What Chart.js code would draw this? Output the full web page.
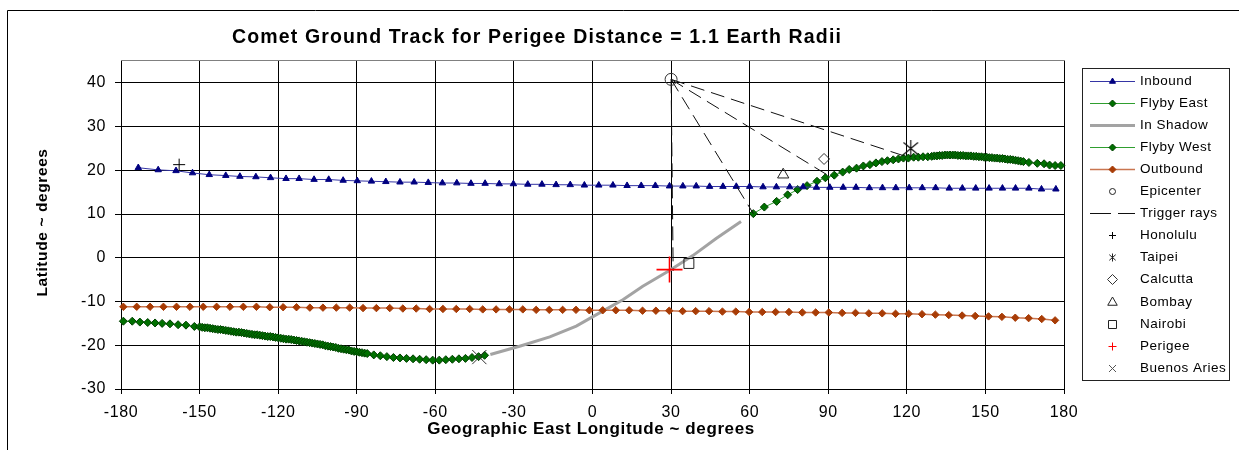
<!DOCTYPE html>
<html><head><meta charset="utf-8">
<script src="https://cdn.jsdelivr.net/npm/chart.js@4"></script>
<style>html,body{margin:0;padding:0;background:#fff;}#c{display:block;}</style>
</head><body>
<canvas id="c" width="1239" height="450"></canvas>
<script>
const FONT = "'Liberation Sans', Arial, sans-serif";
const TITLE = 'Comet Ground Track for Perigee Distance = 1.1 Earth Radii';
const X_TITLE = 'Geographic East Longitude ~ degrees';
const Y_TITLE = 'Latitude ~ degrees';

const xTicks = [-180,-150,-120,-90,-60,-30,0,30,60,90,120,150,180];
const yTicks = [-30,-20,-10,0,10,20,30,40];

const inboundLon = [-173.4,-165.8,-159.0,-152.7,-146.3,-140.0,-134.6,-128.5,-122.9,-117.0,-112.0,-106.3,-100.7,-95.2,-89.8,-84.4,-78.9,-73.5,-68.1,-62.7,-57.3,-51.8,-46.4,-41.0,-35.6,-30.2,-24.7,-19.3,-13.9,-8.5,-3.1,2.4,7.8,13.2,18.6,24.0,29.4,34.5,39.6,44.7,49.8,54.9,60.0,65.1,70.2,75.3,80.4,85.5,90.6,95.7,100.6,105.7,110.7,115.8,120.9,125.9,131.0,136.2,141.2,146.3,151.4,156.5,161.5,166.6,171.4,176.9];
const inboundLat = [20.6,20.1,19.9,19.4,19.0,18.8,18.6,18.5,18.3,18.1,18.1,17.9,17.9,17.7,17.6,17.5,17.4,17.3,17.3,17.2,17.1,17.1,17.0,17.0,16.9,16.9,16.8,16.8,16.7,16.7,16.6,16.6,16.6,16.5,16.5,16.5,16.4,16.4,16.4,16.3,16.3,16.3,16.3,16.2,16.2,16.2,16.2,16.1,16.1,16.1,16.1,16.0,16.0,16.0,16.0,16.0,16.0,15.9,15.9,15.9,15.9,15.9,15.9,15.9,15.7,15.7];

const flybyEastLon = [61.4,65.6,70.3,74.5,78.3,81.9,85.7,88.9,92.3,95.5,98.0,100.8,103.4,105.9,108.2,110.5,112.6,114.8,116.8,118.7,120.6,122.6,124.4,126.2,128.0,129.5,130.5,131.5,132.5,133.5,134.5,135.5,136.5,137.5,138.5,139.5,140.5,141.5,142.5,143.5,144.5,145.5,146.5,147.5,148.5,149.5,150.5,151.5,152.5,153.5,154.5,155.5,156.5,157.5,158.5,159.5,160.5,161.5,162.5,163.5,164.5,166.6,169.8,172.4,174.5,176.6,178.8];
const flybyEastLat = [10.1,11.6,12.9,14.4,15.6,16.5,17.5,18.3,18.9,19.6,20.2,20.5,21.0,21.3,21.7,22.0,22.2,22.4,22.6,22.8,22.8,23.0,23.0,23.1,23.1,23.2,23.3,23.3,23.4,23.4,23.5,23.5,23.5,23.5,23.5,23.4,23.4,23.4,23.3,23.3,23.3,23.2,23.2,23.1,23.1,23.0,23.0,22.9,22.9,22.8,22.8,22.7,22.7,22.6,22.5,22.5,22.4,22.3,22.2,22.1,22.0,21.8,21.6,21.5,21.2,21.1,21.1];

const shadowLon = [-39.0,-27.2,-16.3,-6.2,2.7,11.6,19.2,29.4,38.3,47.2,56.7];
const shadowLat = [-22.1,-20.1,-18.1,-15.6,-12.6,-9.6,-6.5,-2.9,0.5,4.4,8.3];

const flybyWestLon = [-179.1,-175.7,-172.8,-169.8,-167.0,-164.3,-161.3,-158.2,-155.2,-152.0,
 -150,-149,-148,-147,-146,-145,-144,-143,-142,-141,-140,-139,-138,-137,-136,-135,-134,-133,-132,-131,-130,-129,-128,-127,-126,-125,-124,-123,-122,-121,-120,-119,-118,-117,-116,-115,-114,-113,-112,-111,-110,-109,-108,-107,-106,-105,-104,-103,-102,-101,-100,-99,-98,-97,-96,-95,-94,-93,-92,-91,-90,-89,-88,-87,-86,
 -83.5,-81,-78.5,-76,-73.5,-71,-68.5,-66,-63.5,-61,-58.5,-56,-53.5,-51,-48.5,-46,-43.5,-41.2];
const flybyWestLat = [-14.5,-14.5,-14.7,-14.8,-14.9,-15.0,-15.1,-15.3,-15.4,-15.7,
 -15.8,-15.9,-16.0,-16.0,-16.1,-16.2,-16.3,-16.4,-16.4,-16.5,-16.6,-16.7,-16.8,-16.9,-17.0,-17.0,-17.1,-17.2,-17.3,-17.4,-17.5,-17.6,-17.6,-17.7,-17.8,-17.9,-18.0,-18.0,-18.1,-18.2,-18.3,-18.4,-18.5,-18.6,-18.6,-18.7,-18.8,-18.9,-19.0,-19.1,-19.2,-19.3,-19.4,-19.5,-19.6,-19.7,-19.8,-19.9,-20.1,-20.2,-20.3,-20.4,-20.5,-20.7,-20.8,-20.9,-21.0,-21.1,-21.3,-21.4,-21.5,-21.6,-21.7,-21.8,-21.9,
 -22.2,-22.4,-22.6,-22.8,-22.9,-23.0,-23.1,-23.2,-23.3,-23.4,-23.4,-23.3,-23.2,-23.1,-23.0,-22.8,-22.6,-22.3];

const outboundLon = [-179.1,-174.0,-168.9,-163.8,-158.8,-153.7,-148.6,-143.5,-138.4,-133.3,-128.3,-123.2,-118.1,-113.0,-107.9,-102.9,-97.8,-92.7,-87.6,-82.5,-77.4,-72.4,-67.3,-62.2,-57.1,-52.0,-46.9,-41.9,-36.8,-31.7,-26.6,-21.5,-16.5,-11.4,-6.3,-1.2,3.9,8.9,14.0,19.1,24.2,29.3,34.4,39.4,44.5,49.6,54.7,59.8,64.8,69.9,75.0,80.1,85.2,90.2,95.3,100.4,105.5,110.6,115.7,120.7,125.8,130.9,136.0,141.1,146.1,151.2,156.3,161.4,166.5,171.5,176.6];
const outboundLat = [-11.2,-11.2,-11.2,-11.2,-11.2,-11.2,-11.2,-11.2,-11.2,-11.2,-11.2,-11.3,-11.3,-11.3,-11.4,-11.4,-11.4,-11.4,-11.5,-11.5,-11.5,-11.6,-11.6,-11.7,-11.7,-11.7,-11.7,-11.8,-11.8,-11.8,-11.8,-11.9,-11.9,-11.9,-11.9,-12.0,-12.0,-12.0,-12.0,-12.1,-12.1,-12.1,-12.2,-12.2,-12.2,-12.3,-12.3,-12.4,-12.4,-12.4,-12.4,-12.5,-12.5,-12.5,-12.6,-12.6,-12.7,-12.7,-12.8,-12.8,-12.9,-13.0,-13.1,-13.2,-13.3,-13.4,-13.5,-13.7,-13.8,-14.0,-14.3];

const epicenterLon = [30.0];
const epicenterLat = [40.8];
const rayEndLon = [30.8, 61.4, 89.5, 120.5];
const rayEndLat = [-3.0, 10.1, 19.0, 23.0];

const cityNames = ['Honolulu','Taipei','Calcutta','Bombay','Nairobi','Perigee','Buenos Aries'];
const cityLon = [-157.8, 121.5, 88.4, 72.8, 36.8, 29.4, -43.2];
const cityLat = [21.3, 25.0, 22.6, 19.0, -1.3, -2.7, -22.7];

const seriesNames = ['Inbound','Flyby East','In Shadow','Flyby West','Outbound','Epicenter','Trigger rays'];

const pts = (xs, ys) => xs.map((x, i) => ({x: x, y: ys[i]}));

function asteriskCanvas(s, color) {
  const c = document.createElement('canvas');
  c.width = c.height = 2 * s + 2;
  const g = c.getContext('2d');
  const m = s + 1;
  g.strokeStyle = color; g.lineWidth = 1.2;
  g.beginPath();
  g.moveTo(m - s * 0.85, m - s * 0.7); g.lineTo(m + s * 0.85, m + s * 0.7);
  g.moveTo(m + s * 0.85, m - s * 0.7); g.lineTo(m - s * 0.85, m + s * 0.7);
  g.moveTo(m, m - s); g.lineTo(m, m + s);
  g.stroke();
  return c;
}

const C = {
  inLine: '#3535a5', inMark: '#000080',
  flyLine: '#2f9f2f', flyMark: '#007000', flyEdge: '#004000',
  shadow: '#a3a3a3',
  outLine: '#c97650', outMark: '#a83c06'
};

const cityStyles = [
  {pointStyle: 'cross', radius: 6, borderColor: '#000', borderWidth: 1},
  {pointStyle: asteriskCanvas(8.5, '#111'), radius: 8.5, borderColor: '#111', borderWidth: 1},
  {pointStyle: 'rectRot', radius: 5.5, borderColor: '#333', borderWidth: 1},
  {pointStyle: 'triangle', radius: 6.5, borderColor: '#222', borderWidth: 1},
  {pointStyle: 'rect', radius: 7, borderColor: '#222', borderWidth: 1},
  {pointStyle: 'cross', radius: 13, borderColor: '#ff0000', borderWidth: 1.6},
  {pointStyle: 'crossRot', radius: 10, borderColor: '#333', borderWidth: 1}
];

const datasets = [];
cityNames.forEach((n, i) => {
  datasets.push(Object.assign({
    label: n, data: [{x: cityLon[i], y: cityLat[i]}], showLine: false,
    backgroundColor: 'rgba(0,0,0,0)', clip: false
  }, cityStyles[i]));
});
datasets.push({
  label: 'Epicenter', data: pts(epicenterLon, epicenterLat), showLine: false,
  pointStyle: 'circle', radius: 6, borderColor: '#333', borderWidth: 1, backgroundColor: 'rgba(0,0,0,0)', clip: false
});
rayEndLon.forEach((lon, i) => {
  datasets.push({
    label: 'Trigger rays', data: [{x: epicenterLon[0], y: epicenterLat[0]}, {x: lon, y: rayEndLat[i]}],
    showLine: true, borderColor: '#111', borderWidth: 1, borderDash: [14, 7], pointRadius: 0, clip: false
  });
});
datasets.push({
  label: 'Inbound', data: pts(inboundLon, inboundLat), showLine: true,
  borderColor: C.inLine, borderWidth: 1, pointStyle: 'triangle', pointRadius: 3.7,
  pointBackgroundColor: C.inMark, pointBorderColor: C.inMark, pointBorderWidth: 1, clip: false
});
datasets.push({
  label: 'Flyby East', data: pts(flybyEastLon, flybyEastLat), showLine: true,
  borderColor: C.flyLine, borderWidth: 1, pointStyle: 'rectRot', pointRadius: 4,
  pointBackgroundColor: C.flyMark, pointBorderColor: C.flyEdge, pointBorderWidth: 1, clip: false
});
datasets.push({
  label: 'Flyby West', data: pts(flybyWestLon, flybyWestLat), showLine: true,
  borderColor: C.flyLine, borderWidth: 1, pointStyle: 'rectRot', pointRadius: 4,
  pointBackgroundColor: C.flyMark, pointBorderColor: C.flyEdge, pointBorderWidth: 1, clip: false
});
datasets.push({
  label: 'Outbound', data: pts(outboundLon, outboundLat), showLine: true,
  borderColor: C.outLine, borderWidth: 1.5, pointStyle: 'rectRot', pointRadius: 3.7,
  pointBackgroundColor: C.outMark, pointBorderColor: C.outMark, pointBorderWidth: 1, clip: false
});
datasets.push({
  label: 'In Shadow', data: pts(shadowLon, shadowLat), showLine: true,
  borderColor: C.shadow, borderWidth: 3, pointRadius: 0, clip: false
});

function mark(ctx, type, x, y, r, stroke, fill, lw) {
  ctx.save();
  ctx.lineWidth = lw || 1; ctx.strokeStyle = stroke;
  ctx.beginPath();
  if (type === 'triangle') { ctx.moveTo(x, y - r); ctx.lineTo(x + r * 0.866, y + r * 0.5); ctx.lineTo(x - r * 0.866, y + r * 0.5); ctx.closePath(); }
  else if (type === 'diamond') { ctx.moveTo(x, y - r); ctx.lineTo(x + r, y); ctx.lineTo(x, y + r); ctx.lineTo(x - r, y); ctx.closePath(); }
  else if (type === 'circle') { ctx.arc(x, y, r, 0, Math.PI * 2); }
  else if (type === 'square') { ctx.rect(x - r, y - r, 2 * r, 2 * r); }
  else if (type === 'plus') { ctx.moveTo(x - r, y); ctx.lineTo(x + r, y); ctx.moveTo(x, y - r); ctx.lineTo(x, y + r); }
  else if (type === 'x') { ctx.moveTo(x - r, y - r); ctx.lineTo(x + r, y + r); ctx.moveTo(x + r, y - r); ctx.lineTo(x - r, y + r); }
  else if (type === 'ast') { ctx.moveTo(x - r * 0.8, y - r * 0.7); ctx.lineTo(x + r * 0.8, y + r * 0.7); ctx.moveTo(x + r * 0.8, y - r * 0.7); ctx.lineTo(x - r * 0.8, y + r * 0.7); ctx.moveTo(x, y - r); ctx.lineTo(x, y + r); }
  if (fill) { ctx.fillStyle = fill; ctx.fill(); }
  ctx.stroke();
  ctx.restore();
}

const legendItems = [
  {label: seriesNames[0], line: {c: C.inLine, w: 1}, m: ['triangle', 3.5, C.inMark, C.inMark]},
  {label: seriesNames[1], line: {c: C.flyLine, w: 1}, m: ['diamond', 3.5, C.flyEdge, C.flyMark]},
  {label: seriesNames[2], line: {c: C.shadow, w: 3}},
  {label: seriesNames[3], line: {c: C.flyLine, w: 1}, m: ['diamond', 3.5, C.flyEdge, C.flyMark]},
  {label: seriesNames[4], line: {c: C.outLine, w: 1.5}, m: ['diamond', 3.5, C.outMark, C.outMark]},
  {label: seriesNames[5], m: ['circle', 3, '#222', null]},
  {label: seriesNames[6], line: {c: '#111', w: 1, dash: [21, 7]}},
  {label: cityNames[0], m: ['plus', 3.5, '#000', null]},
  {label: cityNames[1], m: ['ast', 4, '#222', null]},
  {label: cityNames[2], m: ['diamond', 5, '#333', null]},
  {label: cityNames[3], m: ['triangle', 5.5, '#222', null]},
  {label: cityNames[4], m: ['square', 4, '#222', null]},
  {label: cityNames[5], m: ['plus', 4, '#ff0000', null]},
  {label: cityNames[6], m: ['x', 3.5, '#555', null]}
];

const decor = {
  id: 'decor',
  beforeDraw(chart) {
    const ctx = chart.ctx;
    ctx.save(); ctx.fillStyle = '#fff'; ctx.fillRect(0, 0, chart.width, chart.height); ctx.restore();
    ctx.letterSpacing = '0.6px';
  },
  afterDraw(chart) {
    const ctx = chart.ctx, a = chart.chartArea;
    ctx.save();
    ctx.lineWidth = 1;
    ctx.strokeStyle = '#808080';
    ctx.beginPath(); ctx.moveTo(a.left, 60.5); ctx.lineTo(a.right + 1, 60.5); ctx.stroke();
    ctx.strokeStyle = '#000';
    ctx.beginPath(); ctx.moveTo(7.5, 450); ctx.lineTo(7.5, 10.5); ctx.lineTo(1239, 10.5); ctx.stroke();

    ctx.fillStyle = '#000';
    ctx.textAlign = 'center'; ctx.textBaseline = 'alphabetic';
    ctx.font = 'bold 19.5px ' + FONT; ctx.letterSpacing = '1.15px';
    ctx.fillText(TITLE, 537, 42.5);
    ctx.font = 'bold 17px ' + FONT; ctx.letterSpacing = '0.6px';
    ctx.fillText(X_TITLE, 591, 434);
    ctx.save(); ctx.translate(47, 222.5); ctx.rotate(-Math.PI / 2);
    ctx.font = 'bold 15.5px ' + FONT; ctx.fillText(Y_TITLE, 0, 0); ctx.restore();

    // legend
    ctx.strokeStyle = '#222';
    ctx.strokeRect(1082.5, 68.5, 147, 312);
    ctx.font = '13.5px ' + FONT; ctx.letterSpacing = '0.5px';
    ctx.textAlign = 'left'; ctx.textBaseline = 'middle';
    legendItems.forEach((it, i) => {
      const y = Math.round(81 + i * 22.05) + 0.5;
      if (it.line) {
        ctx.save();
        ctx.strokeStyle = it.line.c; ctx.lineWidth = it.line.w;
        if (it.line.dash) ctx.setLineDash(it.line.dash);
        ctx.beginPath(); ctx.moveTo(1090, y); ctx.lineTo(1135, y); ctx.stroke();
        ctx.restore();
      }
      if (it.m) mark(ctx, it.m[0], 1112.5, y, it.m[1], it.m[2], it.m[3], 1);
      ctx.fillStyle = '#000';
      ctx.fillText(it.label, 1140, y);
    });
    ctx.restore();
  }
};

new Chart(document.getElementById('c'), {
  type: 'scatter',
  data: {datasets: datasets},
  options: {
    responsive: false, animation: false, devicePixelRatio: 1,
    layout: {padding: {left: 0, top: 61, right: 175, bottom: 0}},
    plugins: {legend: {display: false}, title: {display: false}, tooltip: {enabled: false}},
    elements: {line: {tension: 0}},
    scales: {
      x: {
        type: 'linear', min: -180, max: 180,
        afterBuildTicks: s => { s.ticks = xTicks.map(v => ({value: v})); },
        afterFit: s => { s.height = 61; },
        ticks: {color: '#000', font: {family: FONT, size: 16}, padding: 9, maxRotation: 0, autoSkip: false},
        grid: {color: '#000', lineWidth: 1, tickLength: 5, drawTicks: true},
        border: {color: '#000'}
      },
      y: {
        type: 'linear', min: -30, max: 45,
        afterBuildTicks: s => { s.ticks = yTicks.map(v => ({value: v})); },
        afterFit: s => { s.width = 121; },
        ticks: {color: '#000', font: {family: FONT, size: 16}, padding: 9, autoSkip: false},
        grid: {color: '#000', lineWidth: 1, tickLength: 6, drawTicks: true},
        border: {color: '#000'}
      }
    }
  },
  plugins: [decor]
});
</script>
</body></html>
